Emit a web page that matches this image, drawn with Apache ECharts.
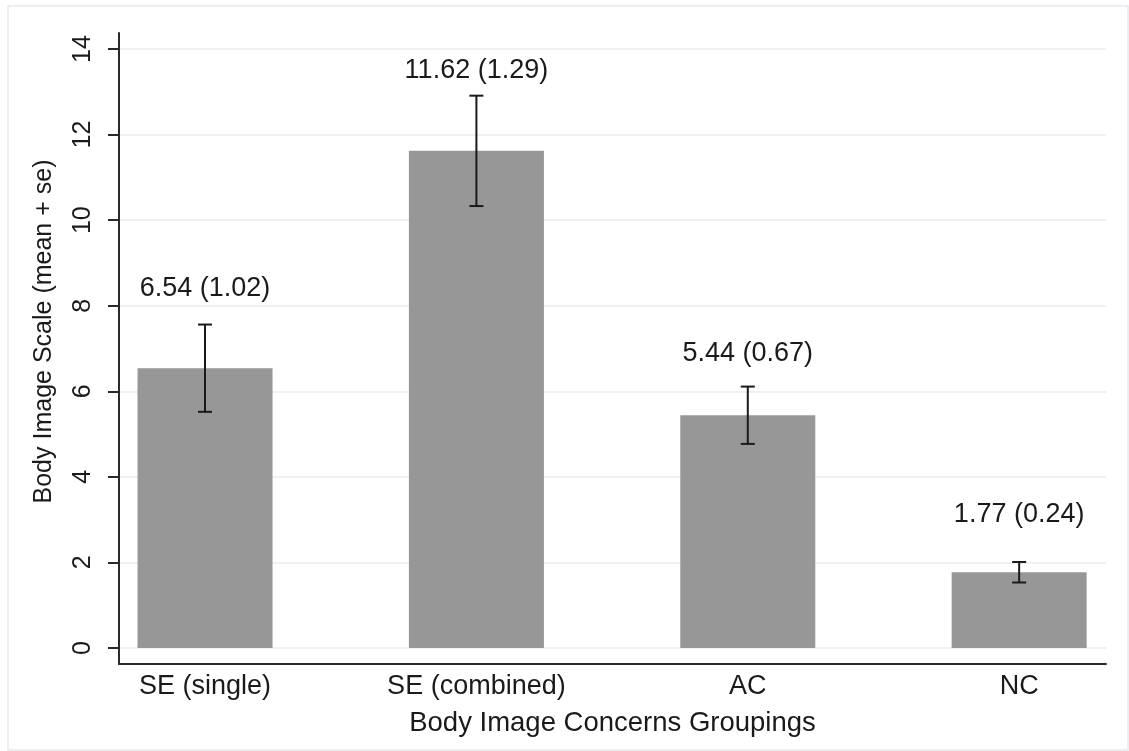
<!DOCTYPE html>
<html><head><meta charset="utf-8">
<script src="https://cdn.jsdelivr.net/npm/echarts@6/dist/echarts.min.js"></script>
<style>html,body{margin:0;padding:0;background:#fff}#c{width:1129px;height:751px}</style>
</head><body><div id="c"></div>
<script>
const categories = ['SE (single)', 'SE (combined)', 'AC', 'NC'];
const means = [6.54, 11.62, 5.44, 1.77];
const ses = [1.02, 1.29, 0.67, 0.24];
const labelAt = [8.39, 13.5, 6.89, 3.11];
const yTicks = [0, 2, 4, 6, 8, 10, 12, 14];
const xTicks = [0, 1, 2, 3];
const yTitle = 'Body Image Scale (mean + se)';
const xTitle = 'Body Image Concerns Groupings';

const FONT = '"Liberation Sans", Arial, Helvetica, sans-serif';
const chart = echarts.init(document.getElementById('c'), null, {renderer: 'canvas'});

const option = {
  backgroundColor: '#ffffff',
  animation: false,
  textStyle: {fontFamily: FONT},
  graphic: [{
    type: 'rect', silent: true, z: -10,
    shape: {x: 8, y: 6, width: 1120, height: 744},
    style: {fill: 'none', stroke: '#e6eaee', lineWidth: 1.5}
  }],
  grid: {left: 119, right: 23, top: 33, bottom: 87, containLabel: false},
  xAxis: {
    type: 'value', min: -0.317, max: 3.32,
    axisLine: {show: true, onZero: false, lineStyle: {color: '#2a2a2a', width: 2}},
    axisTick: {show: false},
    splitLine: {show: false},
    axisLabel: {
      customValues: xTicks, margin: 9,
      formatter: v => categories[Math.round(v)],
      fontSize: 27, color: '#1a1a1a', fontFamily: FONT
    },
    name: xTitle, nameLocation: 'middle', nameGap: 45,
    nameTextStyle: {fontSize: 27.5, color: '#1a1a1a', fontFamily: FONT}
  },
  yAxis: {
    type: 'value', min: -0.375, max: 14.375,
    axisLine: {show: true, onZero: false, lineStyle: {color: '#2a2a2a', width: 2}},
    axisTick: {show: true, customValues: yTicks, length: 11, lineStyle: {color: '#2a2a2a', width: 2}},
    axisLabel: {customValues: yTicks, rotate: 90, margin: 23, fontSize: 25, color: '#1a1a1a', fontFamily: FONT},
    splitLine: {show: true, lineStyle: {color: '#ebebeb', width: 1.5}},
    name: yTitle, nameLocation: 'middle', nameGap: 62, nameRotate: 90,
    nameTextStyle: {fontSize: 25, color: '#1a1a1a', fontFamily: FONT, padding: [0, 0, 0, 34]}
  },
  series: [
    {
      type: 'bar', barWidth: 135,
      data: means.map((m, i) => [i, m]),
      itemStyle: {color: '#979797'},
      z: 2
    },
    {
      type: 'custom', z: 5,
      data: means.map((m, i) => [i, m - ses[i], m + ses[i]]),
      renderItem: function (params, api) {
        const x = api.value(0);
        const top = api.coord([x, api.value(2)]);
        const bot = api.coord([x, api.value(1)]);
        const hw = 7;
        const st = {stroke: '#1a1a1a', lineWidth: 2};
        return {type: 'group', children: [
          {type: 'line', shape: {x1: top[0], y1: top[1], x2: bot[0], y2: bot[1]}, style: st},
          {type: 'line', shape: {x1: top[0] - hw, y1: top[1], x2: top[0] + hw, y2: top[1]}, style: st},
          {type: 'line', shape: {x1: bot[0] - hw, y1: bot[1], x2: bot[0] + hw, y2: bot[1]}, style: st}
        ]};
      }
    },
    {
      type: 'custom', z: 6,
      data: means.map((m, i) => [i, labelAt[i], m, ses[i]]),
      renderItem: function (params, api) {
        const p = api.coord([api.value(0), api.value(1)]);
        return {type: 'text', x: p[0], y: p[1], style: {
          text: api.value(2).toFixed(2) + ' (' + api.value(3).toFixed(2) + ')',
          fontSize: 27, fontFamily: FONT, fill: '#1a1a1a',
          align: 'center', verticalAlign: 'middle'
        }};
      }
    }
  ]
};
chart.setOption(option);
</script>
</body></html>
